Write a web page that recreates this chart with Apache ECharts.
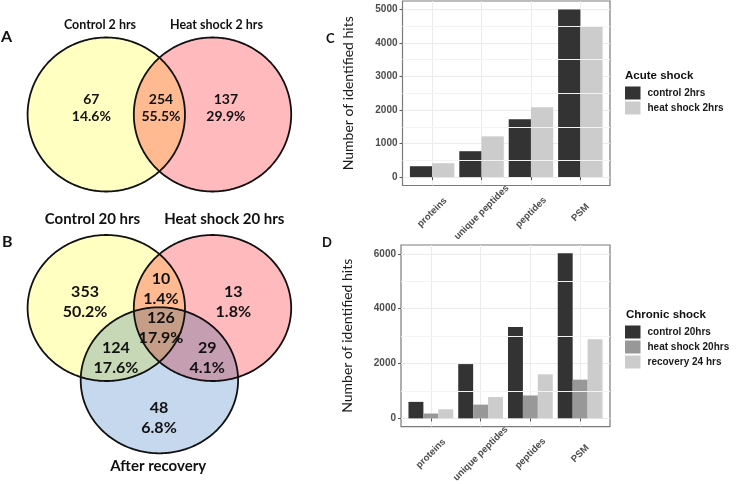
<!DOCTYPE html>
<html><head><meta charset="utf-8">
<script src="https://cdn.jsdelivr.net/npm/echarts@6/dist/echarts.min.js"></script>
<style>html,body{margin:0;padding:0;background:#fff}#c{width:737px;height:485px}</style>
</head><body><div id="c"></div>
<script>
// ---------- Panel C: acute shock ----------
const acuteCategories = ['proteins', 'unique peptides', 'peptides', 'PSM'];
const acuteSeriesNames = ['control 2hrs', 'heat shock 2hrs'];
const acuteControl2h = [325, 772, 1725, 5000];
const acuteHeat2h = [415, 1215, 2080, 4480];
const acuteTicks = [0, 1000, 2000, 3000, 4000, 5000];
const acuteMinor = [500, 1500, 2500, 3500, 4500];

// ---------- Panel D: chronic shock ----------
const chronicCategories = ['proteins', 'unique peptides', 'peptides', 'PSM'];
const chronicSeriesNames = ['control 20hrs', 'heat shock 20hrs', 'recovery 24 hrs'];
const chronicControl20h = [600, 1978, 3335, 6020];
const chronicHeat20h = [176, 500, 835, 1410];
const chronicRecovery24h = [330, 776, 1605, 2885];
const chronicTicks = [0, 2000, 4000, 6000];
const chronicMinor = [1000, 3000, 5000];

// ---------- Panel A: Venn 2 h ----------
const vennASets = ['Control 2 hrs', 'Heat shock 2 hrs'];
const vennACounts = [67, 254, 137];
const vennAPercents = ['14.6%', '55.5%', '29.9%'];

// ---------- Panel B: Venn 20 h ----------
const vennBSets = ['Control 20 hrs', 'Heat shock 20 hrs', 'After recovery'];
const vennBCounts = [353, 10, 13, 126, 124, 29, 48];
const vennBPercents = ['50.2%', '1.4%', '1.8%', '17.9%', '17.6%', '4.1%', '6.8%'];

// ---------- layout (unit-circle geometry for the Venn diagrams) ----------
const vennALayout = {
  circles: [[0, 0], [1.35, 0]],
  regions: [[-0.19, 0.085], [0.695, 0.085], [1.52, 0.085]],
  setLabels: [[-0.08, 1.16], [1.40, 1.16]]
};
const vennBLayout = {
  circles: [[0, 0], [1.35, 0], [0.675, -0.99]],
  regions: [[-0.27, 0.086], [0.695, 0.264], [1.614, 0.086], [0.695, -0.277],
            [0.123, -0.681], [1.283, -0.681], [0.67, -1.511]],
  setLabels: [[-0.175, 1.22], [1.50, 1.22], [0.66, -2.16]]
};
const vennAColors = ['#FFFFC2', '#FFBABE'];
const vennBColors = ['#FFFFC2', '#FFBABE', '#C6D8EE'];

const chart = echarts.init(document.getElementById('c'), null, {renderer: 'canvas'});

const tickFont = {fontFamily: 'Liberation Sans', fontWeight: 'bold', fontSize: 10, color: '#4d4d4d'};
const vennFont = 'Lato';

function paddedRange(vals) {
  const mx = Math.max(...vals);
  return [-0.05 * mx, 1.05 * mx];
}

function barXAxis(grid, cats) {
  return {
    type: 'value', gridIndex: grid, min: 0.4, max: 4.6,
    axisLine: {show: false},
    axisTick: {show: true, customValues: [1, 2, 3, 4], length: 3, lineStyle: {color: '#555'}},
    axisLabel: Object.assign({
      customValues: [1, 2, 3, 4], rotate: 45, align: 'center', verticalAlign: 'middle', margin: 27,
      formatter: v => (Math.abs(v - Math.round(v)) < 1e-6 && cats[Math.round(v) - 1]) ? cats[Math.round(v) - 1] : ''
    }, tickFont, {fontSize: 9.5}),
    splitLine: {show: true, lineStyle: {color: '#ebebeb', width: 1}}
  };
}
function barYAxis(grid, vals, ticks, split) {
  const r = paddedRange(vals);
  return {
    type: 'value', gridIndex: grid, min: r[0], max: r[1], splitNumber: split,
    name: 'Number of identified hits', nameLocation: 'middle', nameGap: 47,
    nameTextStyle: {fontFamily: 'Lato', fontSize: 14, color: '#1a1a1a'},
    axisLine: {show: false},
    axisTick: {show: true, customValues: ticks, length: 3, lineStyle: {color: '#555'}},
    axisLabel: Object.assign({
      customValues: ticks, margin: 5,
      formatter: v => ticks.indexOf(Math.round(v)) >= 0 && Math.abs(v - Math.round(v)) < 1e-6 ? String(Math.round(v)) : ''
    }, tickFont),
    splitLine: {show: true, lineStyle: {color: '#ebebeb', width: 1}}
  };
}
function hiddenAxis(grid, min, max) {
  return {type: 'value', gridIndex: grid, min: min, max: max, show: false};
}
function minorLines(grid, vals) {
  return {
    type: 'line', xAxisIndex: grid, yAxisIndex: grid, data: [], z: 1, silent: true,
    markLine: {silent: true, symbol: 'none', label: {show: false}, animation: false,
      lineStyle: {color: '#f3f3f3', width: 1, type: 'solid'},
      data: vals.map(v => ({yAxis: v}))}
  };
}
function bars(grid, name, vals, color, width) {
  return {
    type: 'bar', name: name, xAxisIndex: grid, yAxisIndex: grid, z: 3,
    data: vals.map((v, i) => [i + 1, v]),
    barWidth: width, barGap: '0%', itemStyle: {color: color}
  };
}

// ----- Venn geometry helpers (unit space, circles of radius 1) -----
function circlePts(c) {
  const n = 360, pts = [];
  for (let k = 0; k < n; k++) {
    const t = 2 * Math.PI * k / n;
    pts.push([c[0] + Math.cos(t), c[1] + Math.sin(t)]);
  }
  return pts;
}
function segInt(p, q, a, b) {
  const x1 = p[0], y1 = p[1], x2 = q[0], y2 = q[1], x3 = a[0], y3 = a[1], x4 = b[0], y4 = b[1];
  const den = (x1 - x2) * (y3 - y4) - (y1 - y2) * (x3 - x4);
  const t = ((x1 - x3) * (y3 - y4) - (y1 - y3) * (x3 - x4)) / den;
  return [x1 + t * (x2 - x1), y1 + t * (y2 - y1)];
}
function clipPoly(subject, clipper) {
  let out = subject;
  for (let i = 0; i < clipper.length && out.length; i++) {
    const a = clipper[i], b = clipper[(i + 1) % clipper.length];
    const inside = p => (b[0] - a[0]) * (p[1] - a[1]) - (b[1] - a[1]) * (p[0] - a[0]) >= 0;
    const inp = out; out = [];
    for (let j = 0; j < inp.length; j++) {
      const cur = inp[j], prev = inp[(j + inp.length - 1) % inp.length];
      const ci = inside(cur), pi = inside(prev);
      if (ci) { if (!pi) out.push(segInt(prev, cur, a, b)); out.push(cur); }
      else if (pi) out.push(segInt(prev, cur, a, b));
    }
  }
  return out;
}
function multiplyColors(cols) {
  let r = 255, g = 255, b = 255;
  cols.forEach(c => {
    const v = parseInt(c.slice(1), 16);
    r = r * ((v >> 16) & 255) / 255; g = g * ((v >> 8) & 255) / 255; b = b * (v & 255) / 255;
  });
  return 'rgb(' + Math.round(r) + ',' + Math.round(g) + ',' + Math.round(b) + ')';
}
function vennShapes(layout, colors) {
  const circ = layout.circles.map(circlePts);
  const n = circ.length, shapes = [];
  circ.forEach((pts, i) => shapes.push({pts: pts, fill: colors[i], stroke: null}));
  for (let size = 2; size <= n; size++) {
    for (let mask = 1; mask < (1 << n); mask++) {
      const idx = [];
      for (let i = 0; i < n; i++) if (mask & (1 << i)) idx.push(i);
      if (idx.length !== size) continue;
      let poly = circ[idx[0]];
      for (let k = 1; k < idx.length; k++) poly = clipPoly(poly, circ[idx[k]]);
      if (poly.length > 2) shapes.push({pts: poly, fill: multiplyColors(idx.map(i => colors[i])), stroke: null});
    }
  }
  circ.forEach(pts => shapes.push({pts: pts, fill: 'none', stroke: '#111'}));
  return shapes;
}
function vennSeries(grid, layout, colors) {
  const shapes = vennShapes(layout, colors);
  return {
    type: 'custom', coordinateSystem: 'cartesian2d', xAxisIndex: grid, yAxisIndex: grid, silent: true, z: 2,
    data: shapes.map((s, i) => [0, 0, i]),
    renderItem: (params, api) => {
      const s = shapes[params.dataIndex];
      const pts = s.pts.map(p => api.coord(p));
      return {
        type: 'polygon', shape: {points: pts},
        style: s.stroke ? {fill: 'none', stroke: s.stroke, lineWidth: 1.8} : {fill: s.fill, stroke: null, lineWidth: 0}
      };
    }
  };
}
function vennLabels(grid, layout, counts, pcts, sets, numSize, lineH, setSize) {
  const items = [];
  layout.regions.forEach((p, i) => items.push([p[0], p[1], counts[i] + '\n' + pcts[i], numSize, lineH]));
  layout.setLabels.forEach((p, i) => items.push([p[0], p[1], sets[i], setSize, setSize]));
  return {
    type: 'custom', coordinateSystem: 'cartesian2d', xAxisIndex: grid, yAxisIndex: grid, silent: true, z: 5,
    data: items.map(it => [it[0], it[1]]),
    renderItem: (params, api) => {
      const it = items[params.dataIndex];
      const p = api.coord([it[0], it[1]]);
      return {
        type: 'text', x: p[0], y: p[1],
        style: {text: it[2], fill: '#111', fontFamily: vennFont, fontWeight: 'bold', fontSize: it[3],
          lineHeight: it[4], align: 'center', verticalAlign: 'middle'}
      };
    }
  };
}
function legendCfg(names, top) {
  return {
    data: names, orient: 'vertical', left: 625, top: top, itemWidth: 15.5, itemHeight: 13, itemGap: 2,
    icon: 'rect', padding: 0, selectedMode: false,
    textStyle: {fontFamily: 'Liberation Sans', fontWeight: 'bold', fontSize: 10, color: '#1a1a1a', padding: [0, 0, 0, 2]}
  };
}
function label(text, x, y, size, weight, family) {
  return {type: 'text', x: x, y: y, silent: true,
    style: {text: text, fontFamily: family || 'Lato', fontWeight: weight || 'bold', fontSize: size, fill: '#111',
      align: 'left', verticalAlign: 'middle'}};
}

const option = {
  backgroundColor: '#ffffff',
  animation: false,
  grid: [
    {left: 402.5, top: 1, width: 207.5, height: 184.5, show: true, borderColor: '#7a7a7a', borderWidth: 1.2},
    {left: 401, top: 245, width: 209, height: 188.3, show: true, borderColor: '#7a7a7a', borderWidth: 1.2},
    {left: 27.6, top: 37.5, width: 263.6, height: 154},
    {left: 27.6, top: 235, width: 263.6, height: 218.3}
  ],
  xAxis: [
    barXAxis(0, acuteCategories),
    barXAxis(1, chronicCategories),
    hiddenAxis(2, -1, 2.35),
    hiddenAxis(3, -1, 2.35)
  ],
  yAxis: [
    barYAxis(0, acuteControl2h.concat(acuteHeat2h), acuteTicks, 5),
    barYAxis(1, chronicControl20h.concat(chronicHeat20h, chronicRecovery24h), chronicTicks, 3),
    hiddenAxis(2, -1, 1),
    hiddenAxis(3, -1.99, 1)
  ],
  legend: [legendCfg(acuteSeriesNames, 86.5), legendCfg(chronicSeriesNames, 325.5)],
  graphic: [
    label('A', 1, 37, 16),
    label('B', 2, 241.5, 16),
    label('C', 326, 39, 13),
    label('D', 322, 243, 13),
    label('Acute shock', 625, 76, 11.5, 'bold', 'Liberation Sans'),
    label('Chronic shock', 626, 315, 11.5, 'bold', 'Liberation Sans')
  ],
  series: [
    minorLines(0, acuteMinor),
    bars(0, acuteSeriesNames[0], acuteControl2h, '#333333', '45%'),
    bars(0, acuteSeriesNames[1], acuteHeat2h, '#cccccc', '45%'),
    minorLines(1, chronicMinor),
    bars(1, chronicSeriesNames[0], chronicControl20h, '#333333', '30%'),
    bars(1, chronicSeriesNames[1], chronicHeat20h, '#989898', '30%'),
    bars(1, chronicSeriesNames[2], chronicRecovery24h, '#cccccc', '30%'),
    vennSeries(2, vennALayout, vennAColors),
    vennSeries(3, vennBLayout, vennBColors),
    vennLabels(2, vennALayout, vennACounts, vennAPercents, vennASets, 14, 17.5, 12.5),
    vennLabels(3, vennBLayout, vennBCounts, vennBPercents, vennBSets, 16, 20, 15)
  ]
};
chart.setOption(option);
</script>
</body></html>
